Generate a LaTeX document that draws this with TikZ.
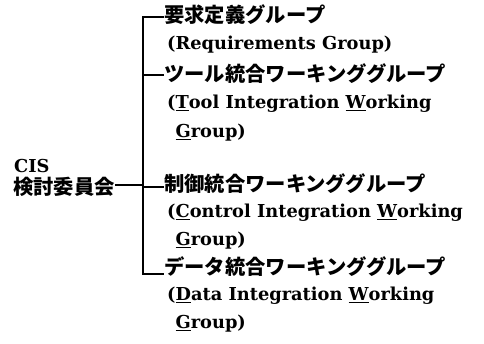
\documentclass[tikz,border=0pt]{standalone}
\usepackage{fontspec}
\setmainfont{DejaVu Serif}
\newfontfamily\jpfont{Noto Sans CJK JP}
\begin{document}
\begin{tikzpicture}[x=1pt,y=-1pt,
  jp/.style={anchor=west,inner sep=0pt,font=\jpfont\bfseries\fontsize{20.3}{22}\selectfont},
  en/.style={anchor=west,inner sep=0pt,font=\bfseries\fontsize{17.8}{20}\selectfont},
  link/.style={line width=1.3pt}]
\useasboundingbox (0,0) rectangle (484,343);
\node[en] (cis) at (14,166) {CIS};
\node[jp] (root) at (13,187) {検討委員会};
\node[jp] (g1) at (164,15) {要求定義グループ};
\node[en] (g1e) at (167,45) {(Requirements Group)};
\node[jp] (g2) at (164,74) {ツール統合ワーキンググループ};
\node[en] (g2e) at (167,104) {(\underline{T}ool Integration \underline{W}orking};
\node[en] (g2f) at (167,133) {\phantom{(}\underline{G}roup)};
\node[jp] (g3) at (164,184) {制御統合ワーキンググループ};
\node[en] (g3e) at (167,213) {(\underline{C}ontrol Integration \underline{W}orking};
\node[en] (g3f) at (167,241) {\phantom{(}\underline{G}roup)};
\node[jp] (g4) at (164,267) {データ統合ワーキンググループ};
\node[en] (g4e) at (167,296) {(\underline{D}ata Integration \underline{W}orking};
\node[en] (g4f) at (167,324) {\phantom{(}\underline{G}roup)};
\coordinate (sx) at (143,0);
\draw[link] ([yshift=-2pt]g1.west) -- ([yshift=-2pt]g1.west -| sx) -- ([yshift=-7pt]g4.west -| sx) -- ([yshift=-7pt]g4.west);
\draw[link] ([yshift=-1pt]g2.west -| sx) -- ([yshift=-1pt]g2.west);
\draw[link] ([yshift=-3pt]g3.west -| sx) -- ([yshift=-3pt]g3.west);
\draw[link] ([yshift=2pt]root.east) -- ([yshift=2pt]root.east -| sx);
\end{tikzpicture}
\end{document}
